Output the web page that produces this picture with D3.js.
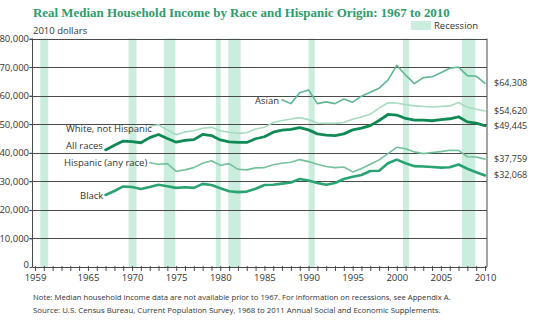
<!DOCTYPE html>
<html><head><meta charset="utf-8">
<script src="https://cdn.jsdelivr.net/npm/d3@7"></script>
<style>
html,body{margin:0;padding:0;background:#fff;}
svg{display:block;}
text{font-family:"Noto Sans","Open Sans",sans-serif;fill:#333;}
</style></head>
<body>
<svg id="chart" width="536" height="325"></svg>
<script>
const years = [1967,1968,1969,1970,1971,1972,1973,1974,1975,1976,1977,1978,1979,1980,1981,1982,1983,1984,1985,1986,1987,1988,1989,1990,1991,1992,1993,1994,1995,1996,1997,1998,1999,2000,2001,2002,2003,2004,2005,2006,2007,2008,2009,2010];
const allRaces = [41000,42600,44100,43900,43500,45300,46400,45000,43700,44300,44600,46400,46000,44500,43800,43600,43600,44900,45600,47200,47900,48200,48800,48000,46600,46200,46000,46600,48000,48600,49500,51300,53400,53200,52000,51400,51400,51200,51600,51900,52600,50800,50400,49445];
const whiteNotHispanic = [null,null,null,null,null,49300,49800,48000,46300,47300,47700,48600,48900,47700,47200,46800,47000,48300,48900,50600,51300,51800,52300,51600,50400,50300,50300,50600,51700,52500,53500,55600,57500,57400,56800,56400,56200,56000,56200,56400,57600,55900,55200,54620];
const hispanic = [null,null,null,null,null,36500,36000,36200,33500,34000,34800,36300,37200,35600,36200,34200,34000,34700,34800,35800,36300,36700,37600,36900,36000,35200,34800,35000,33300,34500,36000,37500,39700,41900,41400,40300,39700,40100,40400,40900,40800,38600,38500,37759];
const black = [25200,26600,28200,28000,27300,28000,28800,28300,27700,27900,27700,29100,28700,27600,26500,26200,26400,27400,28700,28800,29200,29600,30800,30300,29400,28800,29400,30800,31600,32200,33600,33700,36300,37600,36300,35300,35200,35000,34800,34900,35900,34400,33200,32068];
const asian = [null,null,null,null,null,null,null,null,null,null,null,null,null,null,null,null,null,null,null,null,58500,57200,61000,62000,57200,57800,57200,58800,57700,59800,61200,62600,65400,70600,67200,64200,66300,66600,68000,69600,70000,67000,66800,64308];
const seriesNames = ["Asian","White, not Hispanic","All races","Hispanic (any race)","Black"];
const endLabels = ["$64,308","$54,620","$49,445","$37,759","$32,068"];
const recessions = [[1959.6,1960.5],[1969.6,1970.5],[1973.6,1974.9],[1979.5,1980.05],[1980.9,1982.3],[1990.0,1990.7],[2000.7,2001.4],[2007.4,2008.9]];
const yTicks = [0,10000,20000,30000,40000,50000,60000,70000,80000];
const xLabelYears = [1959,1965,1970,1975,1980,1985,1990,1995,2000,2005,2010];

const svg = d3.select("#chart");
const L = 32.5, R = 487, T = 38.5, B = 267;
const pxPerYear = 8.82;
const x = d3.scaleLinear().domain([1959 - (35 - L)/pxPerYear, 2010 + (R - 485)/pxPerYear]).range([L, R]);
const y = d3.scaleLinear().domain([0, 80000]).range([B, T]);
const sans = '"Open Sans","Noto Sans",sans-serif';

function fitText(sel, target, base) {
  const w = sel.node().getComputedTextLength();
  sel.attr("font-size", (base * target / w).toFixed(2));
}

// recession bands
svg.append("g").selectAll("rect").data(recessions).join("rect")
  .attr("x", d => x(d[0])).attr("width", d => x(d[1]) - x(d[0]))
  .attr("y", T).attr("height", B - T).attr("fill", "#cbeddd");

// gridlines
svg.append("g").selectAll("line").data(yTicks.filter(v => v > 0)).join("line")
  .attr("x1", L - 3).attr("x2", R).attr("y1", d => Math.round(y(d)) + 0.5).attr("y2", d => Math.round(y(d)) + 0.5)
  .attr("stroke", "#4a4a4a").attr("stroke-width", 1);

// frame
svg.append("line").attr("x1", L).attr("x2", L).attr("y1", T).attr("y2", B).attr("stroke", "#4a4a4a");
svg.append("line").attr("x1", R).attr("x2", R).attr("y1", T).attr("y2", B).attr("stroke", "#4a4a4a");

// y axis labels
const yAxis = d3.axisLeft(y).tickValues(yTicks).tickSize(3).tickFormat(d3.format(","));
const gy = svg.append("g").attr("transform", `translate(${L},0)`).call(yAxis);
gy.select(".domain").remove();
gy.selectAll("line").attr("stroke", "#4a4a4a");
gy.selectAll("text").attr("font-size", 9.5).attr("fill", "#333").attr("x", -3.5)
  .style("font-family", sans);
gy.selectAll(".tick").filter(d => d === 0).select("text").attr("dy", "0.1em");

// x axis
const xAxis = d3.axisBottom(x).tickValues(d3.range(1959, 2011)).tickSize(4).tickFormat(d => xLabelYears.includes(d) ? d : "");
const gx = svg.append("g").attr("transform", `translate(0,${B})`).call(xAxis);
gx.select(".domain").attr("d", `M${L},0.5H${R}`).attr("stroke", "#4a4a4a");
gx.selectAll(".tick line").attr("stroke", "#4a4a4a").attr("y1", -1).attr("y2", 4);
gx.selectAll("text").attr("font-size", 9.5).attr("fill", "#333").attr("y", 7)
  .style("font-family", sans);

// lines
const series = [
  {vals: asian, color: "#5fb890", w: 1.6},
  {vals: whiteNotHispanic, color: "#a6dbc0", w: 1.6},
  {vals: hispanic, color: "#72c29c", w: 1.6},
  {vals: black, color: "#2aa373", w: 2.6},
  {vals: allRaces, color: "#0f8a55", w: 2.8}
];
const line = d3.line().defined(d => d[1] != null).x(d => x(d[0])).y(d => y(d[1]));
series.forEach(s => {
  svg.append("path").datum(years.map((yr, i) => [yr, s.vals[i]]))
    .attr("d", line).attr("fill", "none").attr("stroke", s.color)
    .attr("stroke-width", s.w).attr("stroke-linejoin", "round").attr("stroke-linecap", "round");
});

// series labels
const labelPos = [[255,104],[66,132],[66,149],[64,166],[80,199]];
svg.append("g").selectAll("text").data(seriesNames).join("text")
  .attr("x", (d,i) => labelPos[i][0]).attr("y", (d,i) => labelPos[i][1])
  .attr("font-size", 9.5).text(d => d)
  .style("font-family", sans);

// end labels
const endVals = [asian[asian.length-1], whiteNotHispanic[whiteNotHispanic.length-1], allRaces[allRaces.length-1], hispanic[hispanic.length-1], black[black.length-1]];
svg.append("g").selectAll("text").data(endLabels).join("text")
  .attr("x", 494).attr("y", (d,i) => y(endVals[i]) + 3)
  .attr("font-size", 9).text(d => d)
  .style("font-family", sans);

// title
const title = svg.append("text").attr("x", 33).attr("y", 17)
  .attr("font-size", 13).attr("font-weight", "bold")
  .style("font-family", '"Liberation Serif","DejaVu Serif",serif').style("fill", "#2e9c6c")
  .text("Real Median Household Income by Race and Hispanic Origin: 1967 to 2010");
fitText(title, 417, 13);

svg.append("text").attr("x", 33).attr("y", 34).attr("font-size", 9.5).text("2010 dollars")
  .style("font-family", sans);

// legend
svg.append("rect").attr("x", 411).attr("y", 21).attr("width", 20).attr("height", 9).attr("fill", "#cbeddd");
svg.append("text").attr("x", 434).attr("y", 29).attr("font-size", 9.5).text("Recession")
  .style("font-family", sans);

// notes
const n1 = svg.append("text").attr("x", 33).attr("y", 300).attr("font-size", 7.5)
  .style("font-family", sans)
  .text("Note: Median household income data are not available prior to 1967. For information on recessions, see Appendix A.");
fitText(n1, 418, 7.5);
const n2 = svg.append("text").attr("x", 33).attr("y", 313).attr("font-size", 7.5)
  .style("font-family", sans)
  .text("Source: U.S. Census Bureau, Current Population Survey, 1968 to 2011 Annual Social and Economic Supplements.");
fitText(n2, 408, 7.5);
</script>
</body></html>
